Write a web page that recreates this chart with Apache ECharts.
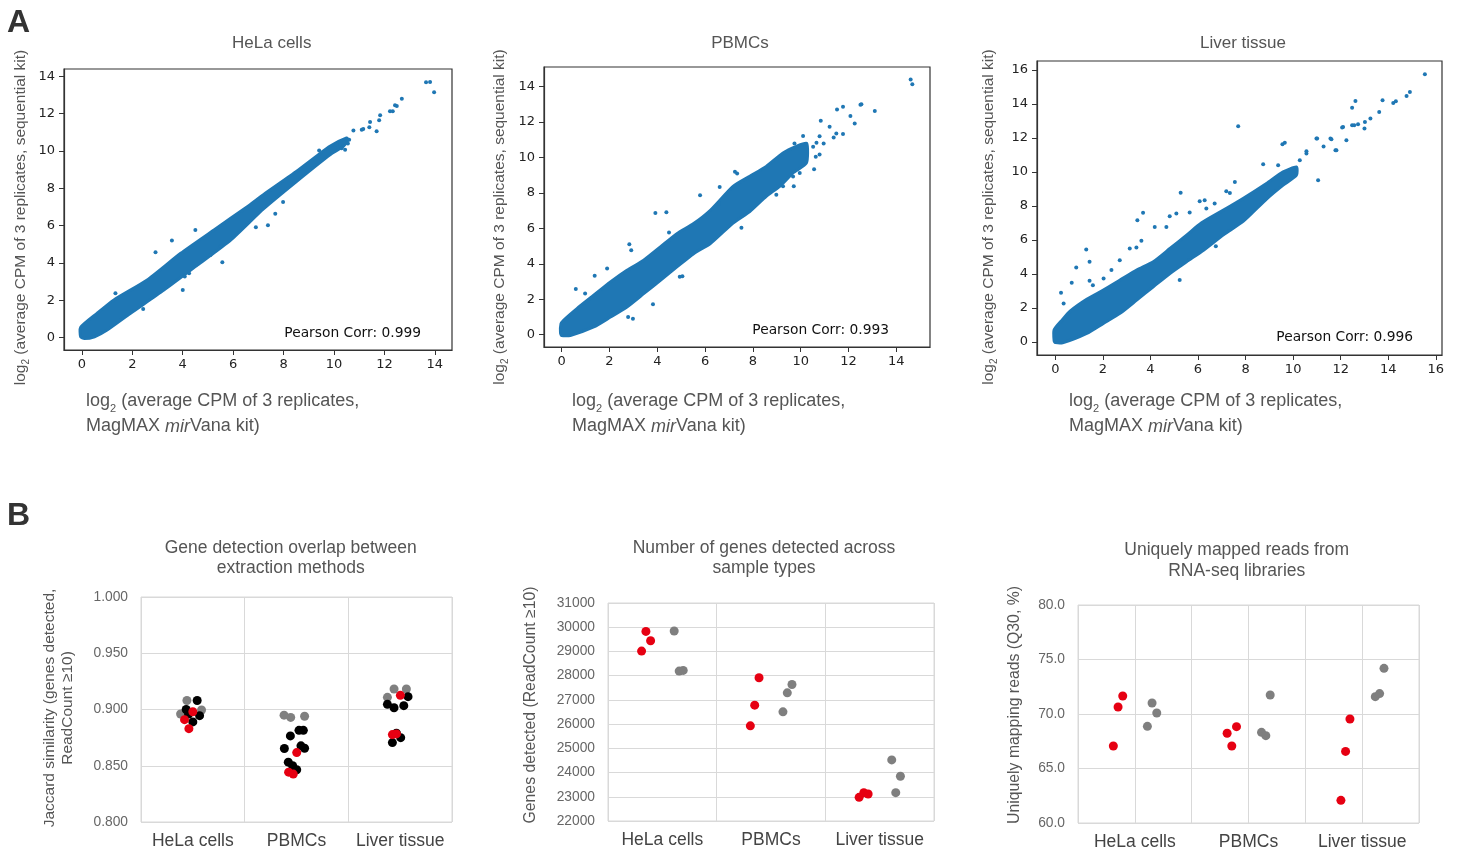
<!DOCTYPE html>
<html><head><meta charset="utf-8">
<script src="https://cdn.jsdelivr.net/npm/echarts@6/dist/echarts.min.js"></script>
<style>html,body{margin:0;padding:0;background:#fff}#c{width:1460px;height:851px}</style>
</head><body><div id="c"></div>
<script>
// ---------- Panel A data ----------
const scatterTitles = ['HeLa cells', 'PBMCs', 'Liver tissue'];
const pearsonCorr = ['0.999', '0.993', '0.996'];
const helaTicks = [0, 2, 4, 6, 8, 10, 12, 14];
const pbmcTicks = [0, 2, 4, 6, 8, 10, 12, 14];
const liverTicks = [0, 2, 4, 6, 8, 10, 12, 14, 16];

// dense cloud outline (upper / lower edge)
const helaBandUpper = [[-0.05,0.05],[-0.05,0.55],[0.6,1.3],[1.27,2.02],[2.59,3.09],[3.92,4.52],[5.24,5.77],[6.56,7.02],[7.2,7.66],[8.52,8.91],[9.84,10.25],[10.5,10.7]];
const helaBandLower = [[0.1,-0.05],[0.5,0.05],[1.0,0.41],[1.93,1.31],[3.25,2.55],[4.58,3.89],[5.9,5.23],[7.2,6.9],[8.52,8.38],[9.84,9.8],[10.37,10.25],[10.56,10.6]];
const helaPoints = [[1.33,2.38],[2.43,1.54],[2.92,4.57],[3.57,5.2],[4.0,2.55],[4.08,3.27],[4.25,3.45],[4.5,5.77],[5.1,4.43],[5.5,4.88],[5.57,4.04],[6.9,5.91],[7.38,6.02],[7.67,6.64],[7.98,7.27],[9.41,10.02],[10.1,10.35],[10.3,10.15],[10.44,10.07],[10.55,10.4],[10.6,10.6],[10.77,11.09],[11.1,11.14],[11.16,11.18],[11.4,11.27],[11.43,11.55],[11.69,11.05],[11.79,11.64],[11.83,11.91],[12.22,12.13],[12.33,12.13],[12.42,12.45],[12.49,12.41],[12.69,12.79],[13.65,13.68],[13.81,13.7],[13.97,13.14]];

const pbmcBandUpper = [[-0.05,0.1],[-0.03,0.6],[0.08,0.81],[0.64,1.47],[1.34,2.22],[2.04,2.97],[2.73,3.63],[3.43,4.2],[4.13,4.95],[4.82,5.7],[5.52,6.27],[6.22,7.02],[7.17,8.37],[7.87,8.94],[8.56,9.5],[9.26,10.26],[9.82,10.63],[10.25,10.8]];
const pbmcBandLower = [[0.0,-0.05],[0.36,-0.05],[1.34,0.43],[2.04,0.99],[2.73,1.56],[3.43,2.31],[4.13,3.07],[4.82,3.82],[5.52,4.57],[6.22,5.14],[7.17,6.3],[7.87,6.95],[8.56,7.81],[9.12,8.37],[9.68,9.13],[10.24,9.69]];
const pbmcPoints = [[0.59,2.58],[0.98,2.32],[1.38,3.33],[1.9,3.73],[2.78,1.0],[2.83,5.1],[2.91,4.76],[2.98,0.9],[3.82,1.71],[3.92,6.87],[4.38,6.91],[4.49,5.76],[4.94,3.26],[5.05,3.3],[5.79,7.87],[6.58,7.4],[6.61,8.34],[7.25,9.2],[7.34,9.1],[7.52,6.03],[8.98,7.9],[9.26,8.37],[9.68,8.93],[9.71,8.38],[9.96,9.12],[9.74,10.79],[10.1,11.22],[10.52,10.6],[10.56,9.34],[10.63,10.04],[10.66,10.83],[10.79,10.17],[10.79,11.2],[10.84,12.07],[10.96,10.79],[11.21,11.73],[11.38,11.13],[11.49,11.36],[11.52,12.71],[11.77,11.32],[11.77,12.86],[12.08,12.34],[12.26,11.92],[12.5,12.98],[12.54,13.01],[13.1,12.62],[14.6,14.41],[14.67,14.14]];

const liverBandUpper = [[-0.05,0.05],[-0.05,0.7],[0.3,1.3],[0.62,1.8],[1.32,2.5],[2.02,3.04],[2.72,3.63],[3.42,4.22],[4.12,4.71],[4.82,5.49],[5.52,6.28],[6.15,7.0],[7.07,7.75],[7.91,8.45],[8.88,9.32],[9.58,10.0],[10.14,10.29]];
const liverBandLower = [[0.0,-0.05],[0.34,-0.05],[1.32,0.49],[2.02,1.08],[2.72,1.67],[3.42,2.45],[4.12,3.24],[4.82,4.02],[5.52,4.71],[6.23,5.39],[7.07,6.3],[7.91,7.1],[8.88,8.4],[9.58,9.22],[10.14,9.81]];
const liverPoints = [[0.24,2.88],[0.35,2.25],[0.69,3.47],[0.88,4.37],[1.3,5.43],[1.44,4.71],[1.44,3.59],[1.58,3.33],[2.03,3.73],[2.36,4.22],[2.71,4.8],[3.13,5.49],[3.41,5.55],[3.45,7.16],[3.62,5.94],[3.69,7.59],[4.18,6.76],[4.67,6.76],[4.81,7.39],[5.09,7.55],[5.23,3.63],[5.27,8.78],[5.65,7.61],[6.07,8.27],[6.28,8.33],[6.35,7.84],[6.7,8.14],[6.75,5.63],[7.19,8.86],[7.34,8.76],[7.55,9.41],[7.69,12.69],[8.74,10.45],[9.37,10.39],[9.55,11.63],[9.65,11.71],[10.28,10.69],[10.56,11.08],[10.56,11.22],[10.98,11.96],[11.01,11.96],[11.05,9.51],[11.28,11.5],[11.57,11.96],[11.61,11.92],[11.78,11.27],[11.82,11.28],[12.06,12.61],[12.1,12.65],[12.24,11.86],[12.48,13.78],[12.48,12.75],[12.57,12.75],[12.62,14.18],[12.73,12.8],[13.0,12.55],[13.02,12.94],[13.25,13.14],[13.62,13.53],[13.76,14.22],[14.21,14.06],[14.32,14.16],[14.77,14.47],[14.91,14.71],[15.54,15.75]];

// ---------- Panel B data ----------
const categoriesB = ['HeLa cells', 'PBMCs', 'Liver tissue'];
const jaccardGray = [[0.443,0.908],[0.382,0.896],[0.584,0.8996],[1.38,0.895],[1.444,0.893],[1.578,0.894],[2.377,0.9108],[2.441,0.9182],[2.56,0.9182]];
const jaccardBlack = [[0.542,0.908],[0.436,0.9],[0.459,0.896],[0.565,0.8945],[0.5,0.889],[1.441,0.8765],[1.524,0.8815],[1.566,0.8815],[1.383,0.8653],[1.543,0.8677],[1.578,0.8656],[1.421,0.8532],[1.463,0.85],[1.502,0.8464],[2.576,0.9114],[2.377,0.9046],[2.441,0.9016],[2.535,0.9034],[2.464,0.8789],[2.425,0.8706],[2.505,0.875]];
const jaccardRed = [[0.5,0.898],[0.42,0.891],[0.462,0.883],[1.502,0.8617],[1.424,0.8443],[1.469,0.8426],[2.502,0.9126],[2.425,0.8777],[2.464,0.8783]];
const genesRed = [[0.349,29828],[0.392,29442],[0.309,29015],[1.39,27912],[1.35,26782],[1.31,25928],[2.311,22978],[2.354,23171],[2.394,23116]];
const genesGray = [[0.609,29842],[0.655,28188],[0.692,28216],[1.693,27637],[1.65,27292],[1.61,26507],[2.611,24522],[2.691,23847],[2.648,23171]];
const mappedRed = [[0.622,67.06],[0.705,70.64],[0.787,71.65],[2.624,68.23],[2.789,68.84],[2.706,67.06],[4.785,69.54],[4.708,66.57],[4.626,62.08]];
const mappedGray = [[1.221,68.87],[1.303,71.01],[1.386,70.09],[3.382,71.74],[3.229,68.32],[3.305,68.01],[5.384,74.19],[5.231,71.59],[5.307,71.87]];

// ---------- build ----------
const SANS = '"Liberation Sans", Arial, sans-serif';
const MPL = '"DejaVu Sans", sans-serif';
const BLUE = '#1f77b4', RED = '#e60012', GRAY = '#7f7f7f';

const chart = echarts.init(document.getElementById('c'), null, {renderer: 'canvas'});

function sAxis(gi, min, max, ticks, isX) {
  return {
    type: 'value', gridIndex: gi, min: min, max: max,
    axisLine: {show: true, onZero: false, lineStyle: {color: '#333', width: 1.2}},
    splitLine: {show: false},
    axisTick: {show: true, inside: false, length: 5, customValues: ticks, lineStyle: {color: '#333', width: 1}},
    axisLabel: {customValues: ticks, margin: isX ? 8 : 9, color: '#222', fontSize: 13, fontFamily: MPL}
  };
}
function bAxisY(gi, min, max, interval, fmt) {
  return {
    type: 'value', gridIndex: gi, min: min, max: max, interval: interval,
    axisLine: {show: false}, axisTick: {show: false},
    splitLine: {show: true, lineStyle: {color: '#d9d9d9', width: 1}},
    axisLabel: {formatter: fmt, fontSize: 13.8, color: '#666', margin: 13, fontFamily: SANS}
  };
}
function bAxisX(gi, max, labelPos, fmt) {
  return {
    type: 'value', gridIndex: gi, min: 0, max: max, interval: 1,
    axisLine: {show: false}, axisTick: {show: false},
    splitLine: {show: true, lineStyle: {color: '#d9d9d9', width: 1}},
    axisLabel: {customValues: labelPos, formatter: fmt, fontSize: 17.5, color: '#444', margin: 10, fontFamily: SANS}
  };
}
function band(gi, upper, lower) {
  return {
    type: 'custom', xAxisIndex: gi, yAxisIndex: gi, clip: true, silent: true,
    data: [[0, 0]],
    renderItem: function (params, api) {
      const pts = upper.concat(lower.slice().reverse()).map(function (p) { return api.coord(p); });
      return {type: 'polygon', shape: {points: pts, smooth: 0.2}, style: {fill: BLUE, stroke: BLUE, lineWidth: 3, lineJoin: 'round'}};
    }
  };
}
function pts(gi, data, color, size, z) {
  return {type: 'scatter', xAxisIndex: gi, yAxisIndex: gi, data: data, symbolSize: size,
    itemStyle: {color: color, opacity: 1}, z: z || 2, silent: true};
}
function text(x, y, str, style, rot) {
  const el = {type: 'text', x: x, y: y, silent: true, style: Object.assign({text: str, fontFamily: SANS, fill: '#555'}, style)};
  if (rot) el.rotation = rot;
  return el;
}
const xTitleRich = {
  n: {fontSize: 18, lineHeight: 25, fill: '#555', fontFamily: SANS},
  s: {fontSize: 11, verticalAlign: 'bottom', fill: '#555', fontFamily: SANS},
  i: {fontSize: 18, lineHeight: 25, fontStyle: 'italic', fill: '#555', fontFamily: SANS}
};
const yTitleRich = {
  n: {fontSize: 15.5, lineHeight: 21, fill: '#555', fontFamily: SANS},
  s: {fontSize: 10, verticalAlign: 'bottom', fill: '#555', fontFamily: SANS}
};
const xTitleStr = '{n|log}{s|2}{n| (average CPM of 3 replicates,}\n{n|MagMAX }{i|mir}{n|Vana kit)}';
const yTitleStr = '{n|log}{s|2}{n| (average CPM of 3 replicates, sequential kit)}';

const grids = [
  {left: 64, top: 69, width: 388, height: 281},
  {left: 544, top: 67, width: 386, height: 280},
  {left: 1037, top: 61, width: 405, height: 294},
  {left: 141, top: 597, width: 311, height: 225},
  {left: 608, top: 603, width: 326, height: 218},
  {left: 1078, top: 605, width: 341, height: 218}
].map(function (g, i) {
  return Object.assign({show: true, containLabel: false, backgroundColor: 'transparent',
    borderColor: i < 3 ? '#333' : '#d9d9d9', borderWidth: i < 3 ? 1.2 : 1}, g);
});

const option = {
  animation: false,
  backgroundColor: '#fff',
  grid: grids,
  xAxis: [
    sAxis(0, -0.71, 14.68, helaTicks, true),
    sAxis(1, -0.74, 15.41, pbmcTicks, true),
    sAxis(2, -0.77, 16.26, liverTicks, true),
    bAxisX(3, 3, [0.5, 1.5, 2.5], function (v) { return categoriesB[Math.floor(v)]; }),
    bAxisX(4, 3, [0.5, 1.5, 2.5], function (v) { return categoriesB[Math.floor(v)]; }),
    bAxisX(5, 6, [1, 3, 5], function (v) { return categoriesB[Math.round((v - 1) / 2)]; })
  ],
  yAxis: [
    sAxis(0, -0.66, 14.39, helaTicks, false),
    sAxis(1, -0.70, 15.11, pbmcTicks, false),
    sAxis(2, -0.78, 16.53, liverTicks, false),
    bAxisY(3, 0.8, 1.0, 0.05, function (v) { return v.toFixed(3); }),
    bAxisY(4, 22000, 31000, 1000, function (v) { return String(Math.round(v)); }),
    bAxisY(5, 60, 80, 5, function (v) { return v.toFixed(1); })
  ],
  series: [
    band(0, helaBandUpper, helaBandLower), pts(0, helaPoints, BLUE, 4),
    band(1, pbmcBandUpper, pbmcBandLower), pts(1, pbmcPoints, BLUE, 4),
    band(2, liverBandUpper, liverBandLower), pts(2, liverPoints, BLUE, 4),
    pts(3, jaccardGray, '#808080', 9, 3), pts(3, jaccardBlack, '#000000', 9, 4), pts(3, jaccardRed, RED, 9, 5),
    pts(4, genesRed, RED, 9, 3), pts(4, genesGray, GRAY, 9, 3),
    pts(5, mappedRed, RED, 9, 3), pts(5, mappedGray, GRAY, 9, 3)
  ],
  graphic: [
    text(7, 7, 'A', {fontSize: 32, fontWeight: 'bold', fill: '#333'}),
    text(7, 500, 'B', {fontSize: 32, fontWeight: 'bold', fill: '#333'}),
    // panel A titles
    text(271.7, 43, scatterTitles[0], {fontSize: 17, align: 'center', verticalAlign: 'middle'}),
    text(740, 43, scatterTitles[1], {fontSize: 17, align: 'center', verticalAlign: 'middle'}),
    text(1243, 43, scatterTitles[2], {fontSize: 17, align: 'center', verticalAlign: 'middle'}),
    // Pearson annotations
    text(421, 333, 'Pearson Corr: ' + pearsonCorr[0], {fontSize: 13.8, fontFamily: MPL, fill: '#111', align: 'right', verticalAlign: 'middle'}),
    text(889, 330, 'Pearson Corr: ' + pearsonCorr[1], {fontSize: 13.8, fontFamily: MPL, fill: '#111', align: 'right', verticalAlign: 'middle'}),
    text(1413, 337, 'Pearson Corr: ' + pearsonCorr[2], {fontSize: 13.8, fontFamily: MPL, fill: '#111', align: 'right', verticalAlign: 'middle'}),
    // x titles
    text(86, 389, xTitleStr, {rich: xTitleRich, align: 'left', verticalAlign: 'top'}),
    text(572, 389, xTitleStr, {rich: xTitleRich, align: 'left', verticalAlign: 'top'}),
    text(1069, 389, xTitleStr, {rich: xTitleRich, align: 'left', verticalAlign: 'top'}),
    // y titles
    text(21, 217.5, yTitleStr, {rich: yTitleRich, align: 'center', verticalAlign: 'middle'}, Math.PI / 2),
    text(500, 217, yTitleStr, {rich: yTitleRich, align: 'center', verticalAlign: 'middle'}, Math.PI / 2),
    text(989, 217, yTitleStr, {rich: yTitleRich, align: 'center', verticalAlign: 'middle'}, Math.PI / 2),
    // panel B titles
    text(290.7, 558, 'Gene detection overlap between\nextraction methods', {fontSize: 17.5, lineHeight: 20, align: 'center', verticalAlign: 'middle'}),
    text(764, 558, 'Number of genes detected across\nsample types', {fontSize: 17.5, lineHeight: 20, align: 'center', verticalAlign: 'middle'}),
    text(1236.7, 560.5, 'Uniquely mapped reads from\nRNA-seq libraries', {fontSize: 17.5, lineHeight: 21, align: 'center', verticalAlign: 'middle'}),
    // panel B y titles
    text(59, 708, 'Jaccard similarity (genes detected,\nReadCount \u226510)', {fontSize: 15.5, lineHeight: 18, align: 'center', verticalAlign: 'middle'}, Math.PI / 2),
    text(531, 705, 'Genes detected (ReadCount \u226510)', {fontSize: 15.8, align: 'center', verticalAlign: 'middle'}, Math.PI / 2),
    text(1015, 705, 'Uniquely mapping reads (Q30, %)', {fontSize: 15.8, align: 'center', verticalAlign: 'middle'}, Math.PI / 2)
  ]
};
chart.setOption(option);
</script></body></html>
